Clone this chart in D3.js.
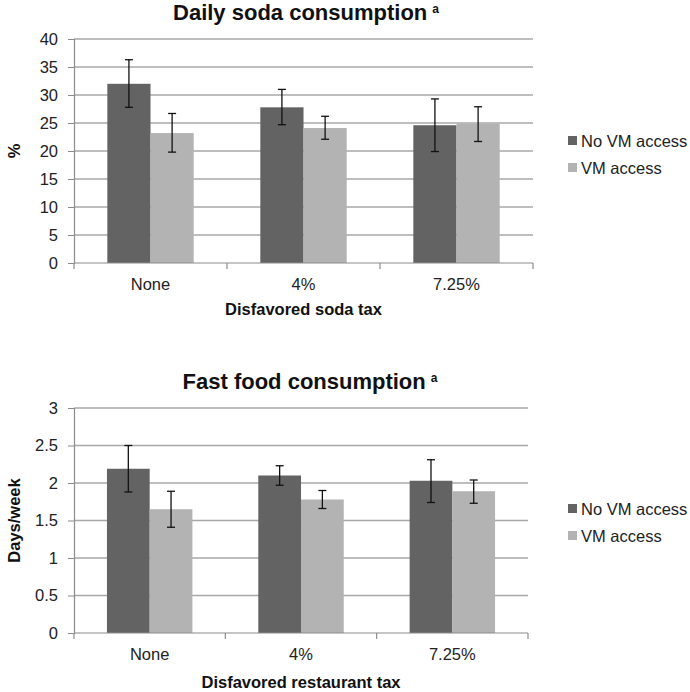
<!DOCTYPE html>
<html><head><meta charset="utf-8">
<script src="https://cdn.jsdelivr.net/npm/d3@7"></script>
<style>
body{margin:0;background:#fff;}
svg{display:block;font-family:"Liberation Sans",Arial,sans-serif;}
</style></head>
<body><svg id="c" width="690" height="692"></svg>
<script>
const categories = ["None", "4%", "7.25%"];
const seriesNames = ["No VM access", "VM access"];

const sodaNoVM = [32.0, 27.8, 24.6];
const sodaNoVMUpper = [36.3, 31.0, 29.3];
const sodaNoVMLower = [27.8, 24.7, 19.9];
const sodaVM = [23.2, 24.1, 24.9];
const sodaVMUpper = [26.7, 26.2, 27.9];
const sodaVMLower = [19.8, 22.1, 21.7];
const sodaTicks = [0, 5, 10, 15, 20, 25, 30, 35, 40];

const fastNoVM = [2.19, 2.10, 2.03];
const fastNoVMUpper = [2.50, 2.23, 2.31];
const fastNoVMLower = [1.88, 1.97, 1.74];
const fastVM = [1.65, 1.78, 1.89];
const fastVMUpper = [1.89, 1.90, 2.04];
const fastVMLower = [1.41, 1.66, 1.73];
const fastTicks = [0, 0.5, 1, 1.5, 2, 2.5, 3];

const colors = ["#636363", "#b3b3b3"];
const svg = d3.select("#c");

function drawChart(o) {
  const g = svg.append("g");
  const x = d3.scaleBand().domain(categories).range([o.left, o.right]);
  const bw = x.bandwidth();
  const xs = d3.scaleBand().domain(seriesNames).range([bw * 0.2178, bw * 0.7824]);
  const y = d3.scaleLinear().domain([0, o.max]).range([o.bottom, o.top]);

  g.append("g").selectAll("line").data(o.ticks.slice(1)).join("line")
    .attr("x1", o.left).attr("x2", o.right)
    .attr("y1", d => y(d)).attr("y2", d => y(d))
    .attr("stroke", "#a8a8a8").attr("stroke-width", 1.5);

  const ya = d3.axisLeft(y).tickValues(o.ticks).tickSize(6).tickPadding(10).tickFormat(d => String(d));
  const yg = g.append("g").attr("transform", `translate(${o.left},0)`).call(ya);
  yg.select(".domain").attr("stroke", "#8c8c8c").attr("stroke-width", 1.2);
  yg.selectAll(".tick line").attr("stroke", "#8c8c8c");
  yg.selectAll("text").attr("font-size", 16.5).attr("fill", "#222").attr("font-family", "Liberation Sans, Arial, sans-serif");

  const rows = categories.map((c, i) => o.series.map((s, j) => ({
    c, name: seriesNames[j], v: s.v[i], hi: s.hi[i], lo: s.lo[i], j
  })));
  const grp = g.append("g").selectAll("g").data(rows).join("g")
    .attr("transform", (d, i) => `translate(${x(categories[i])},0)`);
  grp.selectAll("rect").data(d => d).join("rect")
    .attr("x", d => xs(d.name)).attr("width", xs.bandwidth())
    .attr("y", d => y(d.v)).attr("height", d => y(0) - y(d.v))
    .attr("fill", d => colors[d.j]);

  const eb = grp.selectAll("g.eb").data(d => d).join("g").attr("class", "eb")
    .attr("transform", d => `translate(${xs(d.name) + xs.bandwidth() / 2},0)`);
  eb.append("line").attr("x1", 0).attr("x2", 0)
    .attr("y1", d => y(d.hi)).attr("y2", d => y(d.lo))
    .attr("stroke", "#111").attr("stroke-width", 1.3);
  eb.append("line").attr("x1", -4).attr("x2", 4)
    .attr("y1", d => y(d.hi)).attr("y2", d => y(d.hi))
    .attr("stroke", "#111").attr("stroke-width", 1.3);
  eb.append("line").attr("x1", -4).attr("x2", 4)
    .attr("y1", d => y(d.lo)).attr("y2", d => y(d.lo))
    .attr("stroke", "#111").attr("stroke-width", 1.3);

  const xa = g.append("g").attr("transform", `translate(0,${o.bottom})`);
  xa.append("line").attr("x1", o.left).attr("x2", o.right).attr("stroke", "#8c8c8c").attr("stroke-width", 1.2);
  const bounds = [o.left].concat(categories.map(c => x(c) + bw));
  xa.selectAll("line.t").data(bounds).join("line").attr("class", "t")
    .attr("x1", d => d).attr("x2", d => d).attr("y1", 0).attr("y2", 6)
    .attr("stroke", "#8c8c8c").attr("stroke-width", 1.2);
  xa.selectAll("text").data(categories).join("text")
    .attr("x", d => x(d) + bw / 2).attr("y", o.catY - o.bottom)
    .attr("text-anchor", "middle").attr("font-size", 16.5).attr("fill", "#222").text(d => d);

  const t = g.append("text").attr("x", o.titleX).attr("y", o.titleY)
    .attr("text-anchor", "middle").attr("font-size", 22).attr("font-weight", "bold").attr("fill", "#111");
  t.append("tspan").text(o.title);
  t.append("tspan").attr("font-size", 12).attr("dx", 5).attr("dy", -7).text("a");

  g.append("text").attr("x", (o.left + o.right) / 2).attr("y", o.xTitleY)
    .attr("text-anchor", "middle").attr("font-size", 16.5).attr("font-weight", "bold").attr("fill", "#111")
    .text(o.xTitle);

  g.append("text").attr("transform", `translate(${o.yTitleX},${(o.top + o.bottom) / 2}) rotate(-90)`)
    .attr("text-anchor", "middle").attr("font-size", 16.5).attr("font-weight", "bold").attr("fill", "#111")
    .text(o.yTitle);

  const lg = g.append("g").selectAll("g").data(seriesNames).join("g")
    .attr("transform", (d, i) => `translate(568,${o.legY + i * 27})`);
  lg.append("rect").attr("x", 0).attr("y", -5).attr("width", 9).attr("height", 9).attr("fill", (d, i) => colors[i]);
  lg.append("text").attr("x", 13).attr("y", 0).attr("dy", "0.35em")
    .attr("font-size", 16.5).attr("fill", "#222").text(d => d);
}

drawChart({
  left: 74, right: 533, top: 39, bottom: 263, max: 40, ticks: sodaTicks,
  series: [{ v: sodaNoVM, hi: sodaNoVMUpper, lo: sodaNoVMLower }, { v: sodaVM, hi: sodaVMUpper, lo: sodaVMLower }],
  catY: 290, title: "Daily soda consumption", titleX: 306, titleY: 20,
  xTitle: "Disfavored soda tax", xTitleY: 315, yTitle: "%", yTitleX: 20, legY: 141
});
drawChart({
  left: 74, right: 528, top: 408, bottom: 633, max: 3, ticks: fastTicks,
  series: [{ v: fastNoVM, hi: fastNoVMUpper, lo: fastNoVMLower }, { v: fastVM, hi: fastVMUpper, lo: fastVMLower }],
  catY: 660, title: "Fast food consumption", titleX: 310, titleY: 389,
  xTitle: "Disfavored restaurant tax", xTitleY: 688, yTitle: "Days/week", yTitleX: 20, legY: 509
});
</script></body></html>
